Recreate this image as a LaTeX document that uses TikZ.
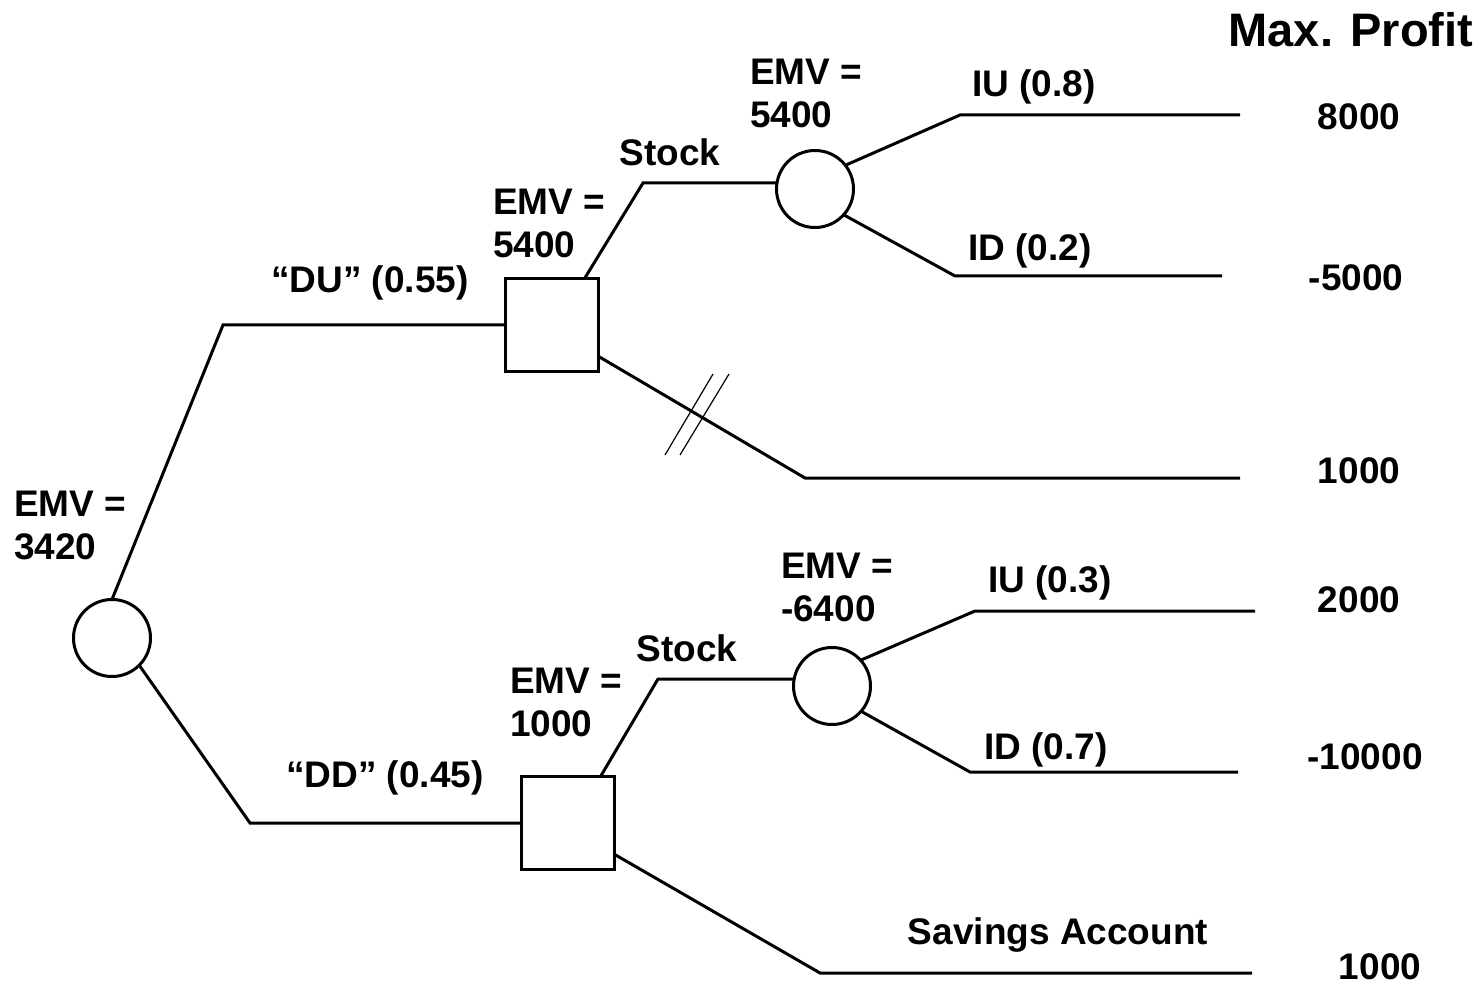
\documentclass[tikz,border=0pt]{standalone}
\usepackage{fontspec}
\setmainfont{Liberation Sans}
\begin{document}
\begin{tikzpicture}[x=0.5pt,y=-0.5pt,
  br/.style={line width=1.5pt,line join=miter},
  chance/.style={circle,draw,line width=1.5pt,minimum size=38.5pt,inner sep=0pt,outer sep=0pt},
  decision/.style={rectangle,draw,line width=1.5pt,minimum size=46.5pt,inner sep=0pt,outer sep=0pt},
  lbl/.style={inner sep=0pt,outer sep=0pt,font=\bfseries\fontsize{18.5pt}{21.5pt}\selectfont},
  emv/.style={lbl,align=left,anchor=west},
  ttl/.style={inner sep=0pt,outer sep=0pt,font=\bfseries\fontsize{23.5pt}{28pt}\selectfont},
  slash/.style={line width=0.6pt}]
\useasboundingbox (0,0) rectangle (1484,984);
% nodes
\node[chance] (r1) at (112,638) {};
\node[decision] (s1) at (552,325) {};
\node[decision] (s2) at (568,823) {};
\node[chance] (c2) at (815,189) {};
\node[chance] (c3) at (832,686) {};
% free ends
\coordinate (du) at (223,325);
\coordinate (dd) at (250,823);
\coordinate (k1) at (643,183);
\coordinate (k2) at (658,679);
\coordinate (iu1) at (960,115);  \coordinate (e1) at (1240,115);
\coordinate (id1) at (955,276);  \coordinate (e2) at (1222,276);
\coordinate (sv1) at (805,478);  \coordinate (e3) at (1240,478);
\coordinate (iu2) at (975,611);  \coordinate (e4) at (1255,611);
\coordinate (id2) at (970,772);  \coordinate (e5) at (1238,772);
\coordinate (sv2) at (820,973);  \coordinate (e6) at (1252,973);
% branches
\draw[br] (r1.north) -- (du) -- (s1.west);
\draw[br] (r1.-45) -- (dd) -- (s2.west);
\draw[br] (s1.55) -- (k1) -- (k1 -| c2.west);
\draw[br] (c2.38) -- (iu1) -- (e1);
\draw[br] (c2.-42) -- (id1) -- (e2);
\draw[br] (s1.-34) -- (sv1) -- (e3);
\draw[br] (s2.55) -- (k2) -- (k2 -| c3.west);
\draw[br] (c3.42) -- (iu2) -- (e4);
\draw[br] (c3.-41) -- (id2) -- (e5);
\draw[br] (s2.-34) -- (sv2) -- (e6);
% blocked branch mark
\draw[slash] (665,455) -- (713,374);
\draw[slash] (680,455) -- (729,374);
% labels
\node[ttl] (title) at (1351,30) {Max. Profit};
\node[lbl] (p1) at (1359,117) {8000};
\node[lbl] (p2) at (1356,278) {-5000};
\node[lbl] (p3) at (1359,471) {1000};
\node[lbl] (p4) at (1359,600) {2000};
\node[lbl] (p5) at (1365,757) {-10000};
\node[lbl] (p6) at (1380,967) {1000};
\node[emv] (emv1) at (750,93) {EMV =\\5400};
\node[emv] (emv2) at (493,223) {EMV =\\5400};
\node[emv] (emv0) at (14,525) {EMV =\\3420};
\node[emv] (emv3) at (781,587) {EMV =\\-6400};
\node[emv] (emv4) at (510,702) {EMV =\\1000};
\node[lbl] (liu1) at (1034,87) {IU (0.8)};
\node[lbl] (lid1) at (1030,251) {ID (0.2)};
\node[lbl] (lst1) at (670,152) {Stock};
\node[lbl] (ldu) at (370,283) {“DU” (0.55)};
\node[lbl] (liu2) at (1050,583) {IU (0.3)};
\node[lbl] (lid2) at (1046,750) {ID (0.7)};
\node[lbl] (lst2) at (687,648) {Stock};
\node[lbl] (ldd) at (385,778) {“DD” (0.45)};
\node[lbl] (lsav) at (1058,935) {Savings Account};
\end{tikzpicture}
\end{document}
